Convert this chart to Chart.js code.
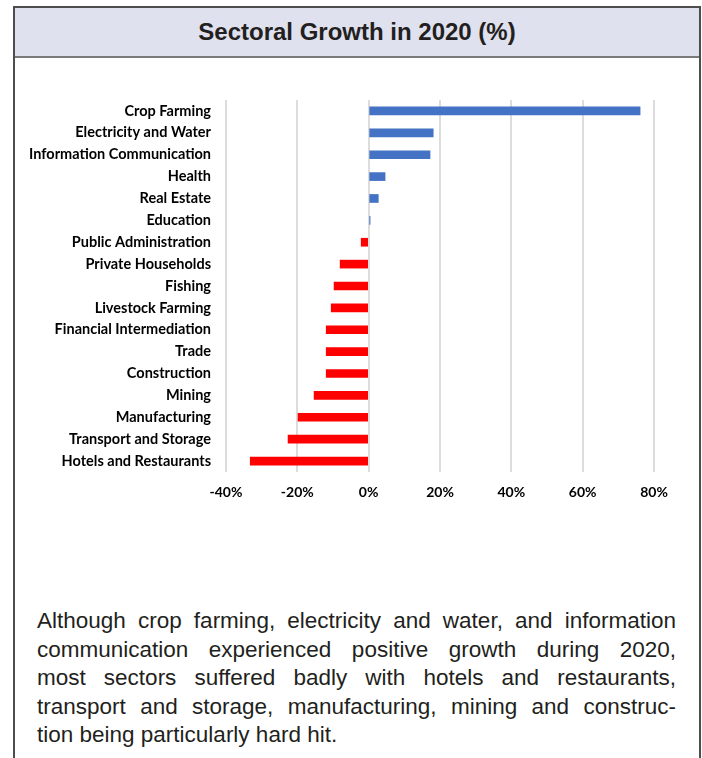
<!DOCTYPE html>
<html>
<head>
<meta charset="utf-8">
<script src="https://cdn.jsdelivr.net/npm/chart.js@4"></script>
<style>
  body { margin: 0; background: #fff; }
  #frame {
    position: absolute; left: 13px; top: 6px; width: 684px; height: 800px;
    border: 2px solid #4d4d4d; border-bottom: none;
  }
  #head {
    height: 48px; background: #dfe1ee; border-bottom: 2px solid #7a7a7a;
    font: bold 24px "Liberation Sans", Arial, sans-serif; color: #231f20;
    text-align: center; line-height: 48px;
  }
  #box { position: absolute; left: 16px; top: 60px; width: 680px; height: 452px; }
  #caption {
    position: absolute; left: 37px; top: 607px; width: 639px;
    font: 22.5px "Liberation Sans", Arial, sans-serif; color: #231f20; line-height: 28.5px;
  }
  #caption div { text-align: justify; text-align-last: justify; white-space: nowrap; }
  #caption div.last { text-align-last: left; }
</style>
</head>
<body>
<div id="frame"><div id="head">Sectoral Growth in 2020 (%)</div></div>
<div id="box"><canvas id="chart"></canvas></div>
<div id="caption">
  <div>Although crop farming, electricity and water, and information</div>
  <div>communication experienced positive growth during 2020,</div>
  <div>most sectors suffered badly with hotels and restaurants,</div>
  <div>transport and storage, manufacturing, mining and construc-</div>
  <div class="last">tion being particularly hard hit.</div>
</div>
<script>
// sectors, top to bottom
const sectors = [
  'Crop Farming', 'Electricity and Water', 'Information Communication', 'Health',
  'Real Estate', 'Education', 'Public Administration', 'Private Households',
  'Fishing', 'Livestock Farming', 'Financial Intermediation', 'Trade',
  'Construction', 'Mining', 'Manufacturing', 'Transport and Storage',
  'Hotels and Restaurants'
];
// growth in 2020, %
const growth = [76.1, 18.1, 17.2, 4.6, 2.7, 0.4, -2.1, -8.0, -9.7, -10.5, -11.9, -11.9, -11.9, -15.3, -19.8, -22.6, -33.2];
const xMin = -40, xMax = 80, xStep = 20;

new Chart(document.getElementById('chart'), {
  type: 'bar',
  data: {
    labels: sectors,
    datasets: [{
      data: growth,
      backgroundColor: ctx => ctx.raw >= 0 ? '#4472c4' : '#ff0000',
      barThickness: 8
    }]
  },
  options: {
    indexAxis: 'y',
    responsive: true,
    maintainAspectRatio: false,
    animation: false,
    layout: { padding: { top: 40, right: 42, left: 0, bottom: 0 } },
    plugins: { legend: { display: false }, tooltip: { enabled: false } },
    scales: {
      x: {
        min: xMin, max: xMax,
        grid: { color: '#dcdcdc', lineWidth: 2, drawTicks: false },
        border: { display: false },
        ticks: {
          stepSize: xStep, padding: 12, color: '#000',
          font: { family: 'Lato', weight: 'bold', size: 14 },
          callback: v => v + '%'
        },
        afterFit: s => { s.height = 40; }
      },
      y: {
        grid: { display: false, drawTicks: false },
        border: { display: false },
        ticks: { padding: 15, color: '#000', font: { family: 'Lato', weight: 'bold', size: 14.5 }, autoSkip: false },
        afterFit: s => { s.width = 210; }
      }
    }
  }
});
</script>
</body>
</html>
